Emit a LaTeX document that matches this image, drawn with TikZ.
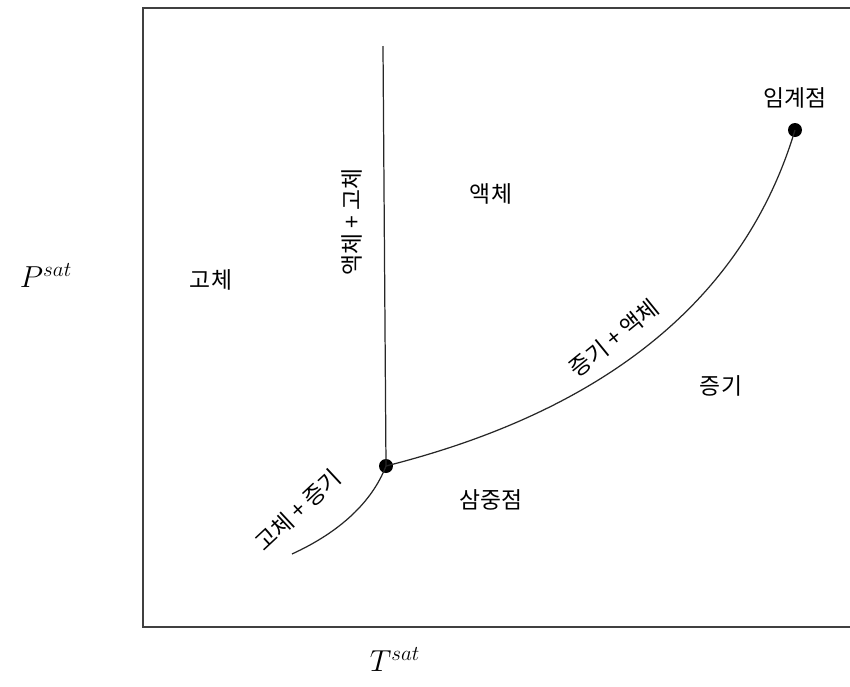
\documentclass[tikz,border=0pt]{standalone}
\usepackage{fontspec}
\newfontfamily\kr{Noto Sans CJK KR}
\usetikzlibrary{positioning}
\tikzset{
  phase/.style={font=\kr\fontsize{13}{15}\selectfont, inner sep=1pt},
  dot/.style={circle, fill=black, inner sep=0pt, minimum size=0.28cm},
  curve/.style={line width=0.7pt, draw=black!85},
  frame/.style={line width=1.1pt, draw=black!75},
  axislabel/.style={font=\fontsize{17}{20}\selectfont}
}

\begin{document}
\begin{tikzpicture}[x=0.02cm,y=-0.02cm]
  \useasboundingbox (0,0) rectangle (850,687);
  \clip (0,0) rectangle (850,687);
  \draw[frame] (143,8) rectangle (880,627);

  % points
  \node[dot] (tp) at (386,466) {};
  \node[dot] (cp) at (795,130) {};
  \coordinate (melt) at (383,46);
  \coordinate (subl) at (292,554);

  % coexistence lines
  \draw[curve] (tp.center) -- (melt);
  \draw[curve] (subl) .. controls (340,532) and (372,502) .. (tp.center);
  \draw[curve] (tp.center) .. controls (560,422) and (735,330) .. (cp.center);

  % labels
  \node[phase] (solid) at (211,280) {고체};
  \node[phase] (liquid) at (491,194) {액체};
  \node[phase] (vapor) at (721,386) {증기};
  \node[phase] (triple) at (491,500) {삼중점};
  \node[phase, above=0.25cm of cp] (critical) {임계점};
  \node[phase, rotate=90] (sl) at (352,222) {액체 + 고체};
  \node[phase, rotate=43] (sv) at (298,510) {고체 + 증기};
  \node[phase, rotate=39] (vl) at (614,338) {증기 + 액체};
  \node[axislabel] (py) at (46,276) {$P^{sat}$};
  \node[axislabel] (tx) at (395,660) {$T^{sat}$};
\end{tikzpicture}
\end{document}
